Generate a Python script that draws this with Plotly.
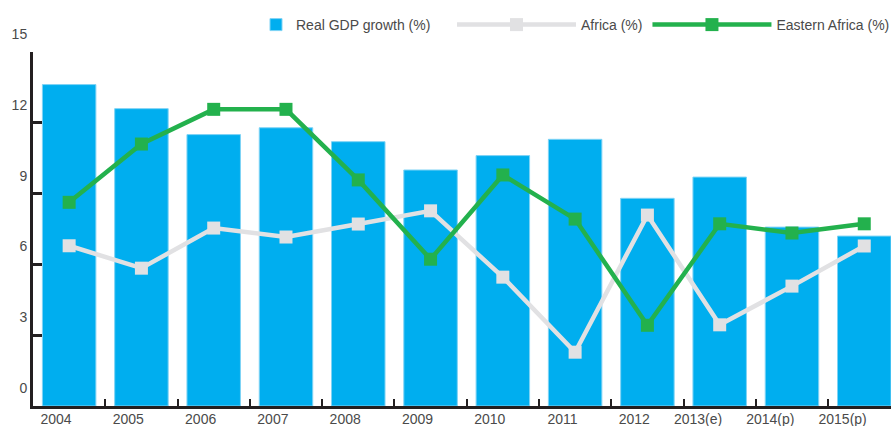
import plotly.graph_objects as go

years = ["2004", "2005", "2006", "2007", "2008", "2009", "2010", "2011",
         "2012", "2013(e)", "2014(p)", "2015(p)"]
real_gdp = [13.62, 12.60, 11.50, 11.79, 11.20, 10.00, 10.61, 11.30, 8.80, 9.70, 7.58, 7.20]
africa = [6.79, 5.84, 7.54, 7.16, 7.71, 8.27, 5.46, 2.28, 8.09, 3.44, 5.08, 6.78]
eastern_africa = [8.63, 11.10, 12.57, 12.57, 9.58, 6.22, 9.79, 7.92, 3.42, 7.72, 7.33, 7.72]
y_ticks = [0, 3, 6, 9, 12, 15]

FONT = "Liberation Sans"
TXT = "#4a4a4a"
AXIS = "#231F20"

fig = go.Figure()
fig.add_trace(go.Bar(
    x=years, y=real_gdp, name="Real GDP growth (%)", legend="legend",
    marker=dict(color="#00AEEF", line=dict(color="#7FD3F5", width=1)),
))
fig.add_trace(go.Scatter(
    x=years, y=africa, name="Africa (%)", mode="lines+markers", legend="legend2",
    xaxis="x2", yaxis="y2",
    line=dict(color="#E1E1E3", width=4.5),
    marker=dict(symbol="square", size=13, color="#E1E1E3"),
))
fig.add_trace(go.Scatter(
    x=years, y=eastern_africa, name="Eastern Africa (%)", mode="lines+markers", legend="legend2",
    xaxis="x2", yaxis="y2",
    line=dict(color="#23B14D", width=4.5),
    marker=dict(symbol="square", size=13, color="#23B14D"),
))

legend_font = dict(family=FONT, size=14, color=TXT)
x_range = [-0.5, 11.37]
y_range = [0, 15]
fig.update_layout(
    width=891, height=426,
    margin=dict(l=33, r=0, t=52, b=20, autoexpand=False),
    paper_bgcolor="white", plot_bgcolor="white",
    bargap=0.26,
    font=dict(family=FONT, size=14, color=TXT),
    showlegend=True,
    legend=dict(orientation="h", x=(256 - 33) / 858, xanchor="left",
                y=(406 - 25) / 354, yanchor="middle",
                font=legend_font, itemwidth=30, bgcolor="rgba(0,0,0,0)"),
    legend2=dict(orientation="h", x=(452 - 33) / 858, xanchor="left",
                 y=(406 - 25) / 354, yanchor="middle",
                 font=legend_font, itemwidth=119, bgcolor="rgba(0,0,0,0)",
                 traceorder="normal"),
    xaxis=dict(
        type="category", range=x_range,
        showline=True, linecolor=AXIS, linewidth=3,
        ticks="", ticklabelposition="outside left", ticklabelstandoff=-2,
        ticklabelshift=4,
        showgrid=False, zeroline=False, automargin=False,
        tickfont=dict(family=FONT, size=14, color=TXT),
    ),
    xaxis2=dict(
        type="category", overlaying="x", anchor="y2", side="bottom", range=x_range,
        ticks="inside", tickson="boundaries", ticklen=7, tickwidth=2, tickcolor=AXIS,
        showticklabels=False, showgrid=False, zeroline=False, showline=False,
        automargin=False,
    ),
    yaxis=dict(
        range=y_range, tickvals=y_ticks,
        showline=True, linecolor=AXIS, linewidth=3,
        ticks="inside", ticklen=9, tickwidth=3, tickcolor=AXIS,
        ticklabelshift=-18, ticklabelstandoff=0,
        showgrid=False, zeroline=False, automargin=False,
        tickfont=dict(family=FONT, size=14, color=TXT),
    ),
    yaxis2=dict(
        overlaying="y", anchor="x2", side="left", range=y_range, tickvals=[y_ticks[-1]],
        ticks="inside", ticklen=20, tickwidth=3, tickcolor=AXIS,
        showticklabels=False, showgrid=False, zeroline=False, showline=False,
        automargin=False,
    ),
)

fig.write_html(
    "out.html",
    config={"displayModeBar": False},
    post_script="document.body.style.margin='0';document.body.style.overflow='hidden';",
)
